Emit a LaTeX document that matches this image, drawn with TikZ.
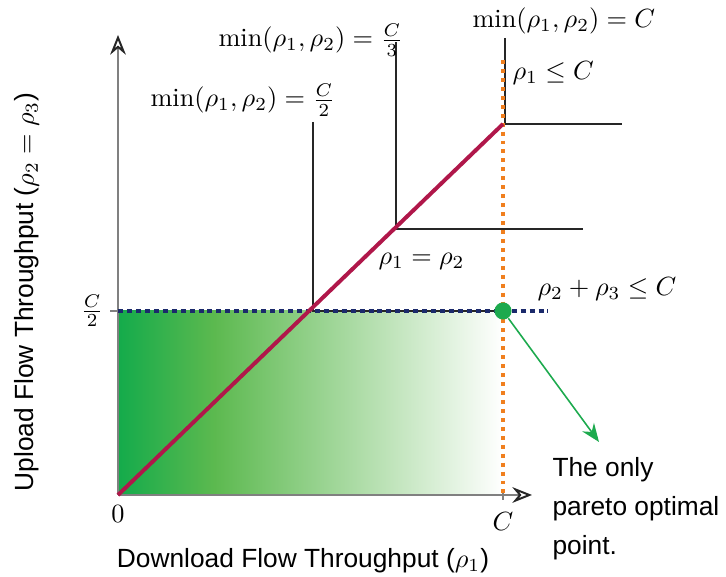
\documentclass[tikz,border=0pt]{standalone}
\usepackage{fontspec}
\setsansfont{Liberation Sans}
\usetikzlibrary{arrows.meta}
\definecolor{poaxis}{HTML}{808080}
\definecolor{pored}{HTML}{B0174A}
\definecolor{poorange}{HTML}{F07F1E}
\definecolor{ponavy}{HTML}{1B2A6B}
\definecolor{pogreen}{HTML}{14AB4B}
\definecolor{pomid}{HTML}{5CB94F}
\definecolor{podot}{HTML}{1DAA4E}
\pgfdeclarehorizontalshading{pofade}{100bp}{color(0bp)=(pogreen); color(25bp)=(pogreen);
  color(37.5bp)=(pomid); color(75bp)=(white); color(100bp)=(white)}
\tikzstyle{poaxis}=[draw=poaxis,line width=0.75pt,
  -{Stealth[open,length=7.5pt,width=6pt,inset=2.5pt,color=black!85]}]
\tikzstyle{potick}=[draw=poaxis,line width=0.75pt]
\tikzstyle{polevel}=[draw=black!85,line width=0.45pt]
\tikzstyle{pored}=[draw=pored,line width=1.5pt]
\tikzstyle{poorange}=[draw=poorange,line width=1.5pt,dash pattern=on 1.5pt off 1.9pt]
\tikzstyle{ponavy}=[draw=ponavy,line width=1.5pt,dash pattern=on 1.9pt off 1.5pt]
\tikzstyle{polabel}=[inner sep=0pt,font=\normalsize]
\tikzstyle{potext}=[inner sep=0pt,font=\sffamily\normalsize]

\begin{document}
\begin{tikzpicture}[x=0.38pt,y=0.38pt]
    \useasboundingbox (0,0) rectangle (726,577);
    % ---- key points ----
    \coordinate (orig) at (118,82);
    \coordinate (xend) at (532,82);
    \coordinate (yend) at (118,542);
    \coordinate (cx)   at (503,82);
    \coordinate (cy)   at (118,266);
    \coordinate (opt)  at (503,266);
    \coordinate (top)  at (503,453);

    % ---- feasible region ----
    \shade[shading=pofade] (orig) rectangle (opt);

    % ---- axes ----
    \draw[poaxis] (orig) -- (xend);
    \draw[poaxis] (orig) -- (yend);
    \draw[potick] (503,77) -- (503,87);
    \draw[potick] (110,266) -- (cy);
    \node[polabel,anchor=north] (zero) at (118,72) {$0$};
    \node[polabel,anchor=north] (cval) at (503,65) {$C$};
    \node[polabel] (chalf) at (92,266) {$\frac{C}{2}$};

    % ---- level sets of min(rho1,rho2) ----
    \draw[polevel] (313,455) -- (313,266) -- (500,266);
    \draw[polevel] (396,535) -- (396,348) -- (583,348);
    \draw[polevel] (505,539) -- (505,453) -- (622,453);
    \node[polabel,anchor=base west] (lhalf)  at (150,470) {$\min(\rho_1,\rho_2)=\frac{C}{2}$};
    \node[polabel,anchor=base west] (lthird) at (218,530) {$\min(\rho_1,\rho_2)=\frac{C}{3}$};
    \node[polabel,anchor=base west] (lfull)  at (472,549) {$\min(\rho_1,\rho_2)=C$};

    % ---- constraints ----
    \draw[poorange] (503,517) -- (cx);
    \draw[ponavy] (cy) -- (548,266);
    \draw[pored] (orig) -- (top);
    \node[polabel,anchor=base west] (cdown) at (512,497) {$\rho_1\leq C$};
    \node[polabel,anchor=base west] (cdiag) at (378,312) {$\rho_1=\rho_2$};
    \node[polabel,anchor=base west] (cup)   at (537,281) {$\rho_2+\rho_3\leq C$};

    % ---- optimum ----
    \node[circle,fill=podot,inner sep=0pt,minimum size=6.5pt] (optpt) at (opt) {};
    \coordinate (tip) at (599,135);
    \draw[draw=podot,line width=0.6pt,-{Stealth[length=7pt,width=5.5pt]}] (optpt) -- (tip);
    \node[potext,anchor=north west,align=left] (note) at (552,120)
      {The only\\[2.8pt]pareto optimal\\[2.8pt]point.};

    % ---- axis titles ----
    \node[potext] (xlab) at (303,16) {Download Flow Throughput ($\rho_1$)};
    \node[potext,rotate=90] (ylab) at (27,285) {Upload Flow Throughput ($\rho_2=\rho_3$)};
  \end{tikzpicture}
\end{document}
